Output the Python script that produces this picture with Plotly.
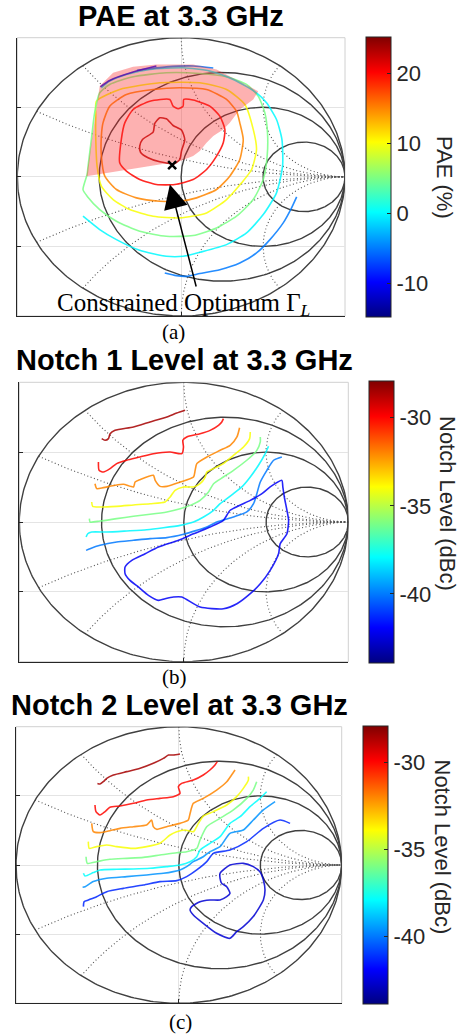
import numpy as np
import plotly.graph_objects as go

W, H = 461, 1035

# ---------------- Smith chart grid values ----------------
R_CIRCLES = [1/3, 1.0, 3.0]
X_ARCS = [0.25, 0.5, 1.0, 2.0, -0.25, -0.5, -1.0, -2.0]

# ---------------- Panel (a): PAE contours (Re Gamma, Im Gamma) ----------------
PAE_LEVELS = [23, 20, 15, 10, 5, 0, -5, -5, -10]
PAE_23 = [(-0.253, 0.221), (-0.236, 0.269), (-0.171, 0.321), (-0.161, 0.384), (-0.130, 0.424),
          (-0.090, 0.417), (-0.049, 0.369), (0.002, 0.336), (0.022, 0.269), (0.002, 0.185),
          (-0.008, 0.125), (-0.039, 0.096), (-0.130, 0.108), (-0.202, 0.137), (-0.248, 0.177),
          (-0.253, 0.221)]
PAE_20 = [(-0.375, 0.101), (-0.365, 0.269), (-0.344, 0.388), (-0.293, 0.484), (-0.191, 0.544),
          (-0.069, 0.556), (-0.049, 0.508), (-0.018, 0.489), (0.012, 0.508), (0.016, 0.556),
          (0.073, 0.552), (0.175, 0.508), (0.236, 0.436), (0.267, 0.341), (0.257, 0.245),
          (0.216, 0.149), (0.155, 0.053), (0.073, -0.019), (-0.039, -0.055), (-0.151, -0.055),
          (-0.253, -0.019), (-0.334, 0.041), (-0.375, 0.101)]
PAE_15 = [(0.358, 0.388), (0.379, 0.269), (0.358, 0.125), (0.297, 0.005), (0.216, -0.091),
          (0.094, -0.151), (-0.008, -0.175), (-0.130, -0.175), (-0.273, -0.151), (-0.395, -0.091),
          (-0.466, 0.005), (-0.487, 0.149), (-0.487, 0.293), (-0.477, 0.388), (-0.436, 0.508),
          (-0.334, 0.592), (-0.171, 0.628), (-0.008, 0.640), (0.155, 0.628), (0.277, 0.556),
          (0.338, 0.472), (0.358, 0.388)]
PAE_10 = [(-0.517, 0.544), (-0.375, 0.628), (-0.130, 0.676), (0.114, 0.676), (0.277, 0.628),
          (0.389, 0.520), (0.440, 0.341), (0.460, 0.197), (0.430, 0.053), (0.369, -0.043),
          (0.277, -0.163), (0.155, -0.259), (-0.008, -0.295), (-0.171, -0.283), (-0.314, -0.235),
          (-0.415, -0.163), (-0.487, -0.067), (-0.513, 0.077), (-0.521, 0.269), (-0.521, 0.436),
          (-0.517, 0.544)]
PAE_5 = [(-0.574, 0.017), (-0.599, -0.091), (-0.574, -0.139), (-0.497, -0.235), (-0.395, -0.319),
         (-0.253, -0.391), (-0.090, -0.427), (0.073, -0.422), (0.216, -0.367), (0.338, -0.283),
         (0.440, -0.163), (0.501, -0.019), (0.525, 0.149), (0.527, 0.317), (0.511, 0.460),
         (0.470, 0.580), (0.399, 0.664), (0.277, 0.719), (0.114, 0.743), (-0.090, 0.748),
         (-0.293, 0.719), (-0.436, 0.664), (-0.497, 0.604), (-0.528, 0.460), (-0.548, 0.269),
         (-0.568, 0.077), (-0.574, 0.017)]
PAE_0 = [(-0.599, -0.283), (-0.497, -0.379), (-0.395, -0.451), (-0.253, -0.528), (-0.090, -0.571),
         (0.012, -0.571), (0.114, -0.542), (0.277, -0.487), (0.399, -0.403), (0.501, -0.271),
         (0.582, -0.115), (0.619, 0.077), (0.615, 0.269), (0.582, 0.412), (0.521, 0.532),
         (0.460, 0.604), (0.318, 0.700), (0.175, 0.760), (0.012, 0.784), (-0.191, 0.772),
         (-0.334, 0.736), (-0.436, 0.688), (-0.487, 0.640)]
PAE_M5_LOW = [(-0.100, -0.691), (-0.029, -0.710), (0.033, -0.715), (0.114, -0.695), (0.236, -0.667),
              (0.358, -0.619), (0.460, -0.547), (0.542, -0.451), (0.623, -0.331), (0.674, -0.223),
              (0.705, -0.144)]
PAE_M5_TOP = [(-0.270, 0.765), (-0.090, 0.790), (0.073, 0.797), (0.196, 0.782)]
PAE_M10_TOP = [(-0.493, 0.647), (-0.436, 0.693), (-0.293, 0.753), (-0.151, 0.796)]
PAE_CONTOURS = [PAE_23, PAE_20, PAE_15, PAE_10, PAE_5, PAE_0, PAE_M5_LOW, PAE_M5_TOP, PAE_M10_TOP]

CONSTRAINT_REGION = [(-0.578, 0.005), (-0.497, 0.652), (-0.415, 0.748), (-0.293, 0.791),
                     (-0.151, 0.808), (0.073, 0.808), (0.216, 0.772), (0.338, 0.700),
                     (0.470, 0.616), (0.440, 0.556), (0.358, 0.484), (0.297, 0.388),
                     (0.257, 0.341), (0.196, 0.293), (0.155, 0.245), (0.114, 0.185),
                     (0.073, 0.149), (-0.008, 0.113), (-0.130, 0.089), (-0.253, 0.065),
                     (-0.436, 0.034), (-0.578, 0.005)]
OPTIMUM = (-0.055, 0.084)
ARROW_HEAD = (-0.069, -0.055)
ARROW_TAIL = (0.094, -0.799)

# ---------------- Panel (b): Notch 1 contours ----------------
N1_LEVELS = [-28.5, -30, -32, -34, -36, -38, -40, -42]
N1_1 = [(-0.499, 0.597), (-0.479, 0.585), (-0.458, 0.597), (-0.448, 0.632), (-0.418, 0.656),
        (-0.306, 0.680), (-0.205, 0.716), (-0.103, 0.752), (-0.043, 0.780), (0.008, 0.800)]
N1_2 = [(-0.519, 0.430), (-0.515, 0.370), (-0.489, 0.358), (-0.448, 0.382), (-0.408, 0.418),
        (-0.347, 0.442), (-0.266, 0.465), (-0.185, 0.489), (-0.083, 0.501), (-0.012, 0.489),
        (-0.002, 0.537), (-0.006, 0.585), (0.018, 0.609), (0.099, 0.632), (0.160, 0.656),
        (0.211, 0.692), (0.231, 0.716), (0.241, 0.740)]
N1_3 = [(-0.540, 0.274), (-0.529, 0.239), (-0.489, 0.246), (-0.418, 0.263), (-0.367, 0.270),
        (-0.306, 0.251), (-0.296, 0.286), (-0.266, 0.303), (-0.185, 0.334), (-0.174, 0.298),
        (-0.144, 0.255), (-0.103, 0.255), (-0.022, 0.286), (0.059, 0.322), (0.069, 0.370),
        (0.079, 0.418), (0.140, 0.465), (0.221, 0.513), (0.282, 0.549), (0.323, 0.609),
        (0.339, 0.675)]
N1_4 = [(-0.560, 0.143), (-0.554, 0.112), (-0.509, 0.107), (-0.408, 0.112), (-0.306, 0.122),
        (-0.205, 0.131), (-0.114, 0.143), (-0.083, 0.179), (-0.053, 0.227), (-0.002, 0.251),
        (0.059, 0.251), (0.099, 0.274), (0.130, 0.322), (0.140, 0.358), (0.181, 0.382),
        (0.241, 0.418), (0.302, 0.477), (0.363, 0.537), (0.400, 0.597), (0.404, 0.644)]
N1_5 = [(-0.574, 0.024), (-0.570, 0.000), (-0.509, 0.007), (-0.408, 0.024), (-0.306, 0.041),
        (-0.205, 0.055), (-0.103, 0.072), (-0.022, 0.095), (0.039, 0.119), (0.099, 0.155),
        (0.150, 0.215), (0.181, 0.274), (0.241, 0.322), (0.302, 0.370), (0.383, 0.442),
        (0.444, 0.513), (0.465, 0.573), (0.465, 0.609)]
N1_6 = [(-0.594, -0.107), (-0.584, -0.084), (-0.560, -0.072), (-0.469, -0.072), (-0.347, -0.064),
        (-0.225, -0.055), (-0.124, -0.041), (-0.022, -0.024), (0.059, 0.000), (0.120, 0.036),
        (0.181, 0.084), (0.221, 0.131), (0.262, 0.167), (0.302, 0.203), (0.353, 0.251),
        (0.404, 0.322), (0.454, 0.406), (0.495, 0.489), (0.515, 0.542)]
N1_7 = [(-0.594, -0.203), (-0.570, -0.191), (-0.509, -0.167), (-0.408, -0.143), (-0.306, -0.131),
        (-0.205, -0.119), (-0.103, -0.112), (-0.002, -0.088), (0.079, -0.060), (0.140, -0.036),
        (0.201, 0.000), (0.302, 0.036), (0.383, 0.072), (0.424, 0.131), (0.444, 0.203),
        (0.465, 0.286), (0.505, 0.370), (0.546, 0.442), (0.596, 0.465)]
N1_8 = [(0.596, 0.298), (0.525, 0.251), (0.475, 0.203), (0.404, 0.155), (0.282, 0.084),
        (0.241, 0.012), (0.160, -0.036), (0.059, -0.084), (-0.032, -0.131), (-0.154, -0.179),
        (-0.235, -0.227), (-0.316, -0.274), (-0.357, -0.322), (-0.357, -0.370), (-0.327, -0.418),
        (-0.276, -0.465), (-0.215, -0.525), (-0.154, -0.561), (-0.114, -0.549), (-0.063, -0.537),
        (-0.012, -0.537), (0.099, -0.609), (0.241, -0.621), (0.323, -0.585), (0.404, -0.513),
        (0.465, -0.442), (0.525, -0.346), (0.576, -0.227), (0.586, -0.155), (0.627, -0.084),
        (0.637, 0.012), (0.627, 0.084), (0.611, 0.179), (0.602, 0.251), (0.596, 0.298)]
N1_CONTOURS = [N1_1, N1_2, N1_3, N1_4, N1_5, N1_6, N1_7, N1_8]

# ---------------- Panel (c): Notch 2 contours ----------------
N2_LEVELS = [-28.5, -30, -32, -34, -36, -37.9, -39.6, -41.3, -42.6]
N2_1 = [(-0.500, 0.590), (-0.484, 0.586), (-0.464, 0.602), (-0.443, 0.627), (-0.402, 0.651),
        (-0.320, 0.675), (-0.238, 0.699), (-0.157, 0.735), (-0.095, 0.771), (-0.064, 0.795),
        (-0.034, 0.795), (0.007, 0.802)]
N2_2 = [(-0.515, 0.434), (-0.509, 0.386), (-0.484, 0.361), (-0.453, 0.386), (-0.423, 0.417),
        (-0.361, 0.427), (-0.279, 0.446), (-0.198, 0.470), (-0.116, 0.482), (-0.034, 0.494),
        (0.007, 0.518), (-0.003, 0.566), (0.017, 0.590), (0.089, 0.614), (0.150, 0.651),
        (0.191, 0.687), (0.222, 0.723), (0.236, 0.747)]
N2_3 = [(-0.535, 0.301), (-0.525, 0.241), (-0.484, 0.234), (-0.423, 0.248), (-0.361, 0.265),
        (-0.279, 0.277), (-0.198, 0.289), (-0.167, 0.325), (-0.157, 0.277), (-0.136, 0.258),
        (-0.075, 0.277), (0.007, 0.301), (0.058, 0.325), (0.069, 0.373), (0.089, 0.446),
        (0.150, 0.482), (0.232, 0.542), (0.294, 0.602), (0.324, 0.651), (0.345, 0.687)]
N2_4 = [(-0.556, 0.169), (-0.550, 0.120), (-0.505, 0.133), (-0.443, 0.145), (-0.382, 0.133),
        (-0.279, 0.120), (-0.198, 0.133), (-0.116, 0.157), (-0.054, 0.217), (-0.013, 0.241),
        (0.038, 0.253), (0.089, 0.241), (0.120, 0.301), (0.150, 0.354), (0.212, 0.386),
        (0.294, 0.434), (0.355, 0.494), (0.396, 0.554), (0.427, 0.614), (0.427, 0.639)]
N2_5 = [(-0.570, 0.060), (-0.562, 0.012), (-0.505, 0.024), (-0.423, 0.041), (-0.320, 0.048),
        (-0.218, 0.055), (-0.116, 0.072), (-0.013, 0.089), (0.048, 0.096), (0.110, 0.120),
        (0.130, 0.181), (0.171, 0.277), (0.253, 0.337), (0.335, 0.398), (0.417, 0.482),
        (0.457, 0.542), (0.478, 0.602)]
N2_6 = [(-0.586, -0.060), (-0.576, -0.080), (-0.525, -0.055), (-0.484, -0.036), (-0.382, -0.031),
        (-0.279, -0.029), (-0.177, -0.024), (-0.075, -0.012), (0.007, 0.000), (0.069, 0.024),
        (0.110, 0.060), (0.130, 0.108), (0.191, 0.157), (0.253, 0.205), (0.314, 0.301),
        (0.376, 0.349), (0.437, 0.422), (0.498, 0.482), (0.539, 0.530)]
N2_7 = [(-0.591, -0.161), (-0.576, -0.157), (-0.525, -0.120), (-0.443, -0.096), (-0.320, -0.084),
        (-0.198, -0.072), (-0.095, -0.060), (-0.034, -0.048), (0.007, -0.036), (0.048, -0.012),
        (0.089, 0.024), (0.150, 0.060), (0.191, 0.096), (0.253, 0.133), (0.314, 0.229),
        (0.396, 0.253), (0.457, 0.325), (0.519, 0.398), (0.591, 0.458)]
N2_8 = [(-0.586, -0.301), (-0.582, -0.265), (-0.556, -0.253), (-0.505, -0.229), (-0.443, -0.193),
        (-0.341, -0.169), (-0.218, -0.145), (-0.116, -0.120), (-0.013, -0.113), (0.048, -0.084),
        (0.110, -0.036), (0.171, 0.024), (0.212, 0.084), (0.314, 0.108), (0.417, 0.169),
        (0.519, 0.265), (0.621, 0.325), (0.683, 0.301)]
N2_9 = [(0.253, -0.060), (0.314, 0.000), (0.396, 0.012), (0.457, -0.012), (0.498, -0.048),
        (0.519, -0.108), (0.529, -0.181), (0.519, -0.253), (0.457, -0.373), (0.396, -0.446),
        (0.355, -0.482), (0.314, -0.530), (0.232, -0.494), (0.150, -0.422), (0.089, -0.361),
        (0.069, -0.325), (0.079, -0.301), (0.130, -0.265), (0.191, -0.253), (0.253, -0.253),
        (0.294, -0.229), (0.314, -0.205), (0.294, -0.157), (0.263, -0.133), (0.253, -0.096),
        (0.253, -0.060)]
N2_CONTOURS = [N2_1, N2_2, N2_3, N2_4, N2_5, N2_6, N2_7, N2_8, N2_9]

# ---------------- Colour ranges / ticks ----------------
PAE_RANGE = (-14.8, 25.2)
PAE_TICKS = [-10, 0, 10, 20]
PAE_TICKTEXT = ["-10", "0", "10", "20"]
NOTCH_RANGE = (-43.9, -27.9)
NOTCH_TICKS = [-40, -35, -30]
NOTCH_TICKTEXT = ["-40", "-35", "-30"]

TITLES = ["PAE at 3.3 GHz", "Notch 1 Level at 3.3 GHz", "Notch 2 Level at 3.3 GHz"]
CB_TITLES = ["PAE (%)", "Notch Level (dBc)", "Notch Level (dBc)"]
PANEL_LABELS = ["(a)", "(b)", "(c)"]

# ---------------- styling helpers ----------------
JET = [(0.0, (0, 0, 128)), (0.125, (0, 0, 255)), (0.375, (0, 255, 255)),
       (0.625, (255, 255, 0)), (0.875, (255, 0, 0)), (1.0, (128, 0, 0))]
JET_SCALE = [[p, "rgb(%d,%d,%d)" % c] for p, c in JET]


def jet(v, vmin, vmax):
    p = min(max((v - vmin) / (vmax - vmin), 0), 1)
    for (p0, c0), (p1, c1) in zip(JET[:-1], JET[1:]):
        if p0 <= p <= p1:
            f = (p - p0) / (p1 - p0)
            c = [round(a + (b - a) * f) for a, b in zip(c0, c1)]
            return "rgb(%d,%d,%d)" % tuple(c)
    return "rgb(128,0,0)"


# panel boxes in pixels: (left, right, top, bottom)
BOXES = [(17.3, 345.0, 37.7, 316.0), (19.3, 348.3, 382.3, 661.7), (16.0, 341.7, 726.7, 1003.3)]
CBARS = [(366, 280, 177.0), (369, 282, 521.7), (362.7, 278.3, 864.9)]  # left, length, center y
TITLE_POS = [(180.5, 16), (184, 360), (179, 705)]
CBT_POS = [(445, 177), (448, 503), (442, 846.5)]
LABEL_POS = [(173.5, 332), (174, 677), (180, 1022)]

fig = go.Figure()

GRID_DARK = "rgb(64,64,64)"
t = np.linspace(0, 2 * np.pi, 361)


def axes_of(ax_i):
    return ("x", "y") if ax_i == 1 else ("x%d" % ax_i, "y%d" % ax_i)


def smith(ax_i):
    xa, ya = axes_of(ax_i)
    rr = np.tan(np.linspace(0, np.pi / 2 - 1e-4, 500))
    for xv in X_ARCS:
        g = (rr + 1j * xv - 1) / (rr + 1j * xv + 1)
        fig.add_trace(go.Scatter(x=g.real, y=g.imag, mode="lines", xaxis=xa, yaxis=ya,
                                 line=dict(color="rgb(80,80,80)", width=1.1, dash="1px,2.5px"),
                                 hoverinfo="skip", showlegend=False))
    fig.add_trace(go.Scatter(x=np.cos(t), y=np.sin(t), mode="lines", xaxis=xa, yaxis=ya,
                             line=dict(color=GRID_DARK, width=1.4), hoverinfo="skip", showlegend=False))
    for r in R_CIRCLES:
        c, rad = r / (1 + r), 1 / (1 + r)
        fig.add_trace(go.Scatter(x=c + rad * np.cos(t), y=rad * np.sin(t), mode="lines",
                                 xaxis=xa, yaxis=ya, line=dict(color=GRID_DARK, width=1.4),
                                 hoverinfo="skip", showlegend=False))


def contours(ax_i, curves, levels, vr):
    xa, ya = axes_of(ax_i)
    for pts, lv in zip(curves, levels):
        fig.add_trace(go.Scatter(x=[p[0] for p in pts], y=[p[1] for p in pts], mode="lines",
                                 xaxis=xa, yaxis=ya, opacity=0.85,
                                 line=dict(color=jet(lv, *vr), width=1.6, shape="spline", smoothing=0.6),
                                 hoverinfo="skip", showlegend=False))


def colorbar(ax_i, vr, ticks, ticktext):
    xa, ya = axes_of(ax_i)
    left, length, cy = CBARS[ax_i - 1]
    cb = dict(x=left / W, xanchor="left", y=1 - cy / H, yanchor="middle", len=length / H,
              lenmode="fraction", thickness=25, thicknessmode="pixels", outlinewidth=1,
              outlinecolor="#262626", tickvals=ticks, ticktext=ticktext, ticks="inside", ticklen=4,
              tickcolor="#262626", xpad=0, ypad=0,
              tickfont=dict(family="Liberation Sans", size=22, color="#262626"))
    fig.add_trace(go.Scatter(x=[None], y=[None], mode="markers", xaxis=xa, yaxis=ya, showlegend=False,
                             marker=dict(color=[vr[0]], cmin=vr[0], cmax=vr[1], colorscale=JET_SCALE,
                                         showscale=True, colorbar=cb)))


# Panel a
smith(1)
contours(1, PAE_CONTOURS, PAE_LEVELS, PAE_RANGE)
fig.add_trace(go.Scatter(x=[p[0] for p in CONSTRAINT_REGION], y=[p[1] for p in CONSTRAINT_REGION],
                         mode="lines", fill="toself", fillcolor="rgba(250,40,40,0.36)",
                         line=dict(width=0, color="rgba(0,0,0,0)"),
                         xaxis="x", yaxis="y", hoverinfo="skip", showlegend=False))
fig.add_trace(go.Scatter(x=[OPTIMUM[0]], y=[OPTIMUM[1]], mode="markers", xaxis="x", yaxis="y",
                         marker=dict(symbol="x-thin", size=8, line=dict(width=2.5, color="black")),
                         hoverinfo="skip", showlegend=False))
colorbar(1, PAE_RANGE, PAE_TICKS, PAE_TICKTEXT)

# Panel b
smith(2)
contours(2, N1_CONTOURS, N1_LEVELS, NOTCH_RANGE)
colorbar(2, NOTCH_RANGE, NOTCH_TICKS, NOTCH_TICKTEXT)

# Panel c
smith(3)
contours(3, N2_CONTOURS, N2_LEVELS, NOTCH_RANGE)
colorbar(3, NOTCH_RANGE, NOTCH_TICKS, NOTCH_TICKTEXT)

layout = dict(width=W, height=H, margin=dict(l=0, r=0, t=0, b=0), autosize=False,
              paper_bgcolor="white", plot_bgcolor="white", showlegend=False)
shapes = []
annotations = []
for i, (l, r, tp, bt) in enumerate(BOXES):
    sfx = "" if i == 0 else str(i + 1)
    common = dict(range=[-1, 1], showticklabels=False, showgrid=True, gridcolor="#e4e4e4", gridwidth=1,
                  zeroline=False, showline=True, linecolor="#262626", linewidth=1, ticks="inside",
                  ticklen=4, tickcolor="#262626", fixedrange=True)
    layout["xaxis" + sfx] = dict(common, domain=[l / W, r / W], tickvals=[-1, 0, 1],
                                 anchor="y" + sfx)
    layout["yaxis" + sfx] = dict(common, domain=[1 - bt / H, 1 - tp / H], tickvals=[-1, -0.5, 0, 0.5, 1],
                                 anchor="x" + sfx)
    shapes.append(dict(type="rect", xref="x%s domain" % sfx, yref="y%s domain" % sfx, x0=0, x1=1,
                       y0=0, y1=1, line=dict(color="#d0d0d0", width=1), layer="below"))
    tx, ty = TITLE_POS[i]
    annotations.append(dict(text="<b>%s</b>" % TITLES[i], x=tx / W, y=1 - ty / H, xref="paper",
                            yref="paper", showarrow=False, xanchor="center", yanchor="middle",
                            font=dict(family="Liberation Sans", size=29, color="black")))
    cx, cy = CBT_POS[i]
    annotations.append(dict(text=CB_TITLES[i], x=cx / W, y=1 - cy / H, xref="paper", yref="paper",
                            showarrow=False, textangle=90, xanchor="center", yanchor="middle",
                            font=dict(family="Liberation Sans", size=22, color="#262626")))
    lx, ly = LABEL_POS[i]
    annotations.append(dict(text=PANEL_LABELS[i], x=lx / W, y=1 - ly / H, xref="paper", yref="paper",
                            showarrow=False, xanchor="center", yanchor="middle",
                            font=dict(family="Liberation Serif", size=21, color="black")))

annotations.append(dict(text="", x=ARROW_HEAD[0], y=ARROW_HEAD[1], ax=ARROW_TAIL[0], ay=ARROW_TAIL[1],
                        xref="x", yref="y", axref="x", ayref="y", showarrow=True, arrowhead=2,
                        arrowsize=3.2, arrowwidth=1.5, arrowcolor="black"))
annotations.append(dict(text="Constrained Optimum Γ<sub><i>L</i></sub>", x=183.5 / W, y=1 - 304 / H,
                        xref="paper", yref="paper", showarrow=False, xanchor="center", yanchor="middle",
                        font=dict(family="Liberation Serif", size=25, color="black")))
layout["shapes"] = shapes
layout["annotations"] = annotations
fig.update_layout(**layout)
fig.write_html("out.html", config={"displayModeBar": False},
               post_script="document.body.style.margin='0px';document.body.style.overflow='hidden';")
